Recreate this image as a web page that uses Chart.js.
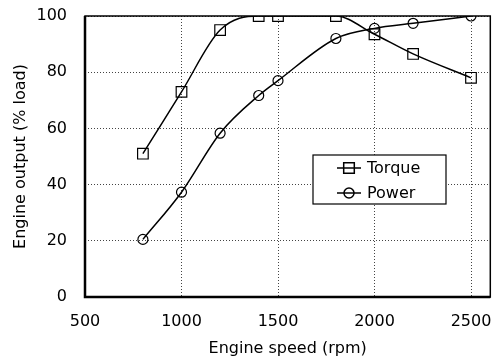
<!DOCTYPE html>
<html>
<head>
<meta charset="utf-8">
<script src="https://cdn.jsdelivr.net/npm/chart.js@4/dist/chart.umd.min.js"></script>
<style>
  html, body { margin: 0; padding: 0; background: #fff; }
  #wrap { width: 499px; height: 358px; }
</style>
</head>
<body>
<div id="wrap"><canvas id="engineChart" width="499" height="358"></canvas></div>
<script>
// Data
const speeds = [800, 1000, 1200, 1400, 1500, 1800, 2000, 2200, 2500];
const torque = [51, 73, 95, 100, 100, 100, 93.5, 86.5, 78];
const power = [20.5, 37.3, 58.3, 71.7, 77, 92, 95.6, 97.4, 100];
const xTicks = [500, 1000, 1500, 2000, 2500];
const yTicks = [0, 20, 40, 60, 80, 100];

const FONT = '"DejaVu Sans", Verdana, sans-serif';

// Frame round the plot area plus an inset legend box
const framePlugin = {
  id: 'frame',
  afterDatasetsDraw(chart) {
    const { ctx, chartArea: a } = chart;
    ctx.save();
    ctx.strokeStyle = '#000';
    ctx.lineWidth = 1.5;
    ctx.strokeRect(a.left, a.top, a.right - a.left, a.bottom - a.top);
    ctx.lineWidth = 2.5;
    ctx.beginPath();
    ctx.moveTo(a.left, a.top);
    ctx.lineTo(a.left, a.bottom);
    ctx.lineTo(a.right, a.bottom);
    ctx.stroke();
    ctx.restore();
  },
  afterDraw(chart) {
    const { ctx } = chart;
    const box = { x: 313, y: 155, w: 133, h: 49 };
    ctx.save();
    ctx.fillStyle = '#fff';
    ctx.fillRect(box.x, box.y, box.w, box.h);
    ctx.strokeStyle = '#000';
    ctx.lineWidth = 1.2;
    ctx.strokeRect(box.x, box.y, box.w, box.h);
    chart.data.datasets.forEach((ds, i) => {
      const cy = box.y + 13 + i * 25;
      const cx = 349;
      ctx.lineWidth = 1.5;
      ctx.beginPath();
      ctx.moveTo(cx - 12, cy);
      ctx.lineTo(cx + 12, cy);
      ctx.stroke();
      ctx.fillStyle = 'rgba(0,0,0,0)';
      Chart.helpers.drawPoint(ctx, {
        pointStyle: ds.pointStyle,
        radius: ds.pointRadius,
        borderWidth: 1.2
      }, cx, cy);
      ctx.fillStyle = '#000';
      ctx.font = '16px ' + FONT;
      ctx.textBaseline = 'middle';
      ctx.fillText(ds.label, 367, cy + 1);
    });
    ctx.restore();
  }
};

const gridOpts = { color: '#444', lineWidth: 1, tickLength: 0 };
const tickFont = { family: FONT, size: 16 };

const ctx = document.getElementById('engineChart').getContext('2d');
new Chart(ctx, {
  type: 'line',
  data: {
    datasets: [
      {
        label: 'Torque',
        data: speeds.map((s, i) => ({ x: s, y: torque[i] })),
        pointStyle: 'rect',
        pointRadius: 7.5
      },
      {
        label: 'Power',
        data: speeds.map((s, i) => ({ x: s, y: power[i] })),
        pointStyle: 'circle',
        pointRadius: 5
      }
    ].map(ds => Object.assign(ds, {
      borderColor: '#000',
      borderWidth: 1.5,
      pointBorderColor: '#000',
      pointBorderWidth: 1.2,
      pointBackgroundColor: 'rgba(0,0,0,0)',
      cubicInterpolationMode: 'monotone',
      fill: false
    }))
  },
  options: {
    responsive: false,
    animation: false,
    layout: { padding: { top: 16, right: 7, left: 0, bottom: 0 } },
    plugins: { legend: { display: false }, tooltip: { enabled: false } },
    scales: {
      x: {
        type: 'linear',
        min: 500,
        max: 2600,
        afterBuildTicks(scale) { scale.ticks = xTicks.map(v => ({ value: v })); },
        afterFit(scale) {
          scale.height = 61;
          scale.paddingLeft = 0;
          scale.paddingRight = 0;
        },
        border: { display: false, dash: [1, 2] },
        grid: gridOpts,
        ticks: { color: '#000', font: tickFont, padding: 15, maxRotation: 0, callback: v => String(v) },
        title: { display: true, text: 'Engine speed (rpm)', color: '#000', font: tickFont, padding: { top: 4, bottom: 0 } }
      },
      y: {
        min: 0,
        max: 100,
        afterBuildTicks(scale) { scale.ticks = yTicks.map(v => ({ value: v })); },
        afterFit(scale) {
          scale.width = 85;
          scale.paddingTop = 0;
          scale.paddingBottom = 0;
        },
        border: { display: false, dash: [1, 2] },
        grid: gridOpts,
        ticks: { color: '#000', font: tickFont, padding: 18, callback: v => String(v) },
        title: { display: true, text: 'Engine output (% load)', color: '#000', font: tickFont, padding: { top: 11, bottom: 4 } }
      }
    }
  },
  plugins: [framePlugin]
});
</script>
</body>
</html>
